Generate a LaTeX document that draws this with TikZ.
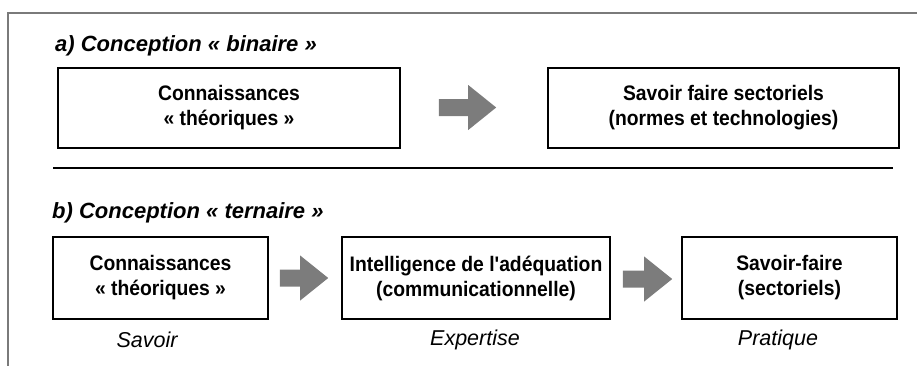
\documentclass[tikz,border=0pt]{standalone}
\usepackage{fontspec}
\setmainfont{Liberation Sans}[FakeStretch=0.92, Ligatures=TeXOff]
\newfontfamily\plainsans{Liberation Sans}[Ligatures=TeXOff]
\usetikzlibrary{calc}
\definecolor{framegray}{HTML}{7A7A7A}
\definecolor{arrowgray}{HTML}{7C7C7C}
\tikzset{
  conceptbox/.style={draw=black, line width=1.6pt, fill=white, align=center,
    font=\fontsize{21}{25}\selectfont\bfseries, inner sep=0pt},
  heading/.style={anchor=west, font=\plainsans\fontsize{22}{24}\selectfont\bfseries\itshape, inner sep=0pt},
  caption/.style={font=\plainsans\fontsize{21.5}{24}\selectfont\itshape, inner sep=0pt},
}
% block arrow from a tail coordinate to a tip coordinate (horizontal)
\newcommand{\blockarrow}[2]{%
  \fill[arrowgray] let \p1=(#1), \p2=(#2) in
    (\x1,\y1+8.5pt) -- (\x2-28pt,\y1+8.5pt) -- (\x2-28pt,\y1+22.5pt) -- (\x2,\y1)
    -- (\x2-28pt,\y1-22.5pt) -- (\x2-28pt,\y1-8.5pt) -- (\x1,\y1-8.5pt) -- cycle;}
\begin{document}
\begin{tikzpicture}[x=1pt,y=-1pt]
\useasboundingbox (0,0) rectangle (917,365);
% outer frame (open to the right and bottom)
\draw[framegray, line width=2pt] (8,366) -- (8,13) -- (918,13);

% a) binary conception
\node[heading] (ta) at (55,46) {a) Conception « binaire »};
\node[conceptbox, minimum width=342pt, minimum height=80pt] (a1) at (229,108)
  {Connaissances\\« théoriques »};
\node[conceptbox, minimum width=351pt, minimum height=80pt] (a2) at (723.5,108)
  {Savoir faire sectoriels\\(normes et technologies)};
\coordinate (a12t) at ($(a1.east)+(38,-0.5)$);
\coordinate (a12h) at ($(a2.west)+(-51,-0.5)$);
\blockarrow{a12t}{a12h}

% separator
\draw[line width=2.6pt] (53,168) -- (893,168);

% b) ternary conception
\node[heading] (tb) at (52,213) {b) Conception « ternaire »};
\node[conceptbox, minimum width=215pt, minimum height=82pt] (b1) at (160.5,278)
  {Connaissances\\« théoriques »};
\node[conceptbox, minimum width=268pt, minimum height=82pt] (b2) at (476,278)
  {Intelligence de l'adéquation\\(communicationnelle)};
\node[conceptbox, minimum width=215pt, minimum height=82pt] (b3) at (789.5,278)
  {Savoir-faire\\(sectoriels)};
\coordinate (b12t) at ($(b1.east)+(11,0)$);
\coordinate (b12h) at ($(b2.west)+(-13,0)$);
\blockarrow{b12t}{b12h}
\coordinate (b23t) at ($(b2.east)+(12,1)$);
\coordinate (b23h) at ($(b3.west)+(-9,1)$);
\blockarrow{b23t}{b23h}

\node[caption] (c1) at (147,340) {Savoir};
\node[caption] (c2) at (475,340) {Expertise};
\node[caption] (c3) at (778,340) {Pratique};
\end{tikzpicture}
\end{document}
